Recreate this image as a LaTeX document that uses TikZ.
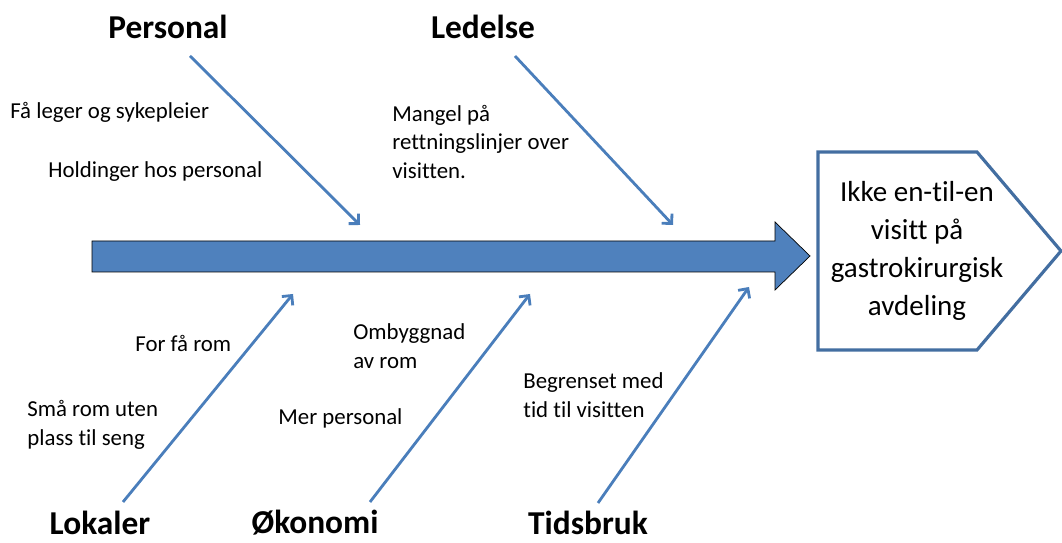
\documentclass[tikz,border=0pt]{standalone}
\usepackage{fontspec}
\setmainfont{Carlito}[Ligatures={NoCommon}]
\usetikzlibrary{arrows.meta}
\definecolor{officeblue}{HTML}{4F81BD}
\definecolor{boneblue}{HTML}{4A7EBB}
\tikzset{ cat/.style = { font         = \bfseries\fontsize{19}{23}\selectfont
                       , inner sep    = 0pt
                       },
          cause/.style = { font       = \fontsize{13}{16.5}\selectfont
                         , align      = left
                         , anchor     = west
                         , inner sep  = 0pt
                         },
          bone/.style = { draw       = boneblue
                        , line width = 1.6pt
                        , -{Straight Barb[length=4pt,width=8pt]}
                        },
          spine/.style = { fill = officeblue
                         },
          head/.style = { draw       = officeblue!85!black
                        , line width = 1.8pt
                        , fill       = white
                        }
        }
\begin{document}
\begin{tikzpicture}[x=0.02cm, y=-0.02cm]
    \useasboundingbox (0,0) rectangle (1062,543);
    % spine
    \draw[spine] (92,241) -- (775,241) -- (775,222) -- (810,256)
        -- (775,290) -- (775,272) -- (92,272) -- cycle;
    % head
    \draw[head] (818,152) -- (977,152) -- (1061,251) -- (977,350)
        -- (818,350) -- cycle;
    \node[align=center, inner sep=0pt,
          font=\fontsize{16.5}{21.5}\selectfont] (effect) at (917,251)
        {Ikke en-til-en\\visitt på\\gastrokirurgisk\\avdeling};

    % categories
    \node[cat] (personal) at (168,27)  {Personal};
    \node[cat] (ledelse)  at (483,27)  {Ledelse};
    \node[cat] (lokaler)  at (100,523) {Lokaler};
    \node[cat] (okonomi)  at (315,523) {Økonomi};
    \node[cat] (tid)      at (588,523) {Tidsbruk};

    % bone ends
    \coordinate (p0) at (190,56);  \coordinate (p1) at (360,225);
    \coordinate (l0) at (515,56);  \coordinate (l1) at (673,225);
    \coordinate (k0) at (123,502); \coordinate (k1) at (293,294);
    \coordinate (o0) at (370,502); \coordinate (o1) at (530,294);
    \coordinate (t0) at (598,503); \coordinate (t1) at (749,287);

    \draw[bone] (p0) -- (p1);
    \draw[bone] (l0) -- (l1);
    \draw[bone] (k0) -- (k1);
    \draw[bone] (o0) -- (o1);
    \draw[bone] (t0) -- (t1);

    % causes
    \node[cause] (c1) at (10,112)  {Få leger og sykepleier};
    \node[cause] (c2) at (48,172)  {Holdinger hos personal};
    \node[cause] (c3) at (392,142) {Mangel på\\rettningslinjer over\\visitten.};
    \node[cause] (c4) at (135,343) {For få rom};
    \node[cause] (c5) at (27,425)  {Små rom uten\\plass til seng};
    \node[cause] (c6) at (353,346) {Ombyggnad\\av rom};
    \node[cause] (c7) at (278,418) {Mer personal};
    \node[cause] (c8) at (523,395) {Begrenset med\\tid til visitten};
\end{tikzpicture}
\end{document}
